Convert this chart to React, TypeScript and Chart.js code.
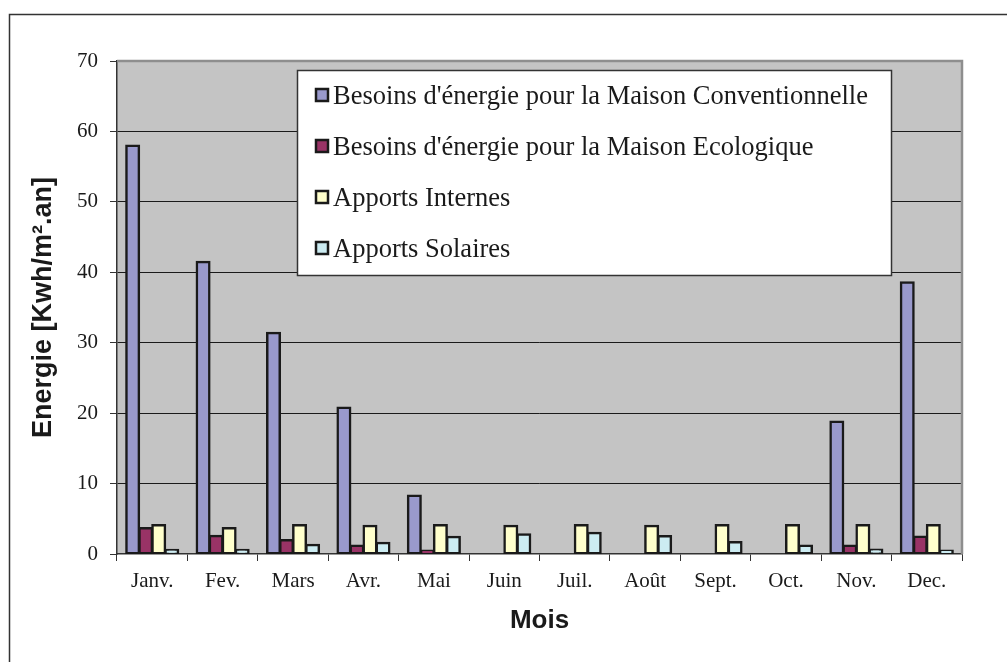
import React, { useEffect, useRef } from "react";
import { Chart, registerables } from "chart.js";

Chart.register(...registerables);

const months = ["Janv.", "Fev.", "Mars", "Avr.", "Mai", "Juin", "Juil.", "Août", "Sept.", "Oct.", "Nov.", "Dec."];
const conventionnelle = [58, 41.5, 31.4, 20.8, 8.3, 0, 0, 0, 0, 0, 18.8, 38.6];
const ecologique = [3.7, 2.6, 2.0, 1.2, 0.5, 0, 0, 0, 0, 0, 1.2, 2.5];
const internes = [4.1, 3.7, 4.1, 4.0, 4.1, 4.0, 4.1, 4.0, 4.1, 4.1, 4.1, 4.1];
const solaires = [0.6, 0.6, 1.3, 1.6, 2.45, 2.8, 3.0, 2.55, 1.7, 1.2, 0.65, 0.5];
const seriesNames = [
  "Besoins d'énergie pour la Maison Conventionnelle",
  "Besoins d'énergie pour la Maison Ecologique",
  "Apports Internes",
  "Apports Solaires",
];
const seriesColors = ["#9999CC", "#993366", "#FFFFCC", "#CCECF2"];
const yTitle = "Energie [Kwh/m².an]";
const xTitle = "Mois";

const framePlugin = {
  id: "frame",
  beforeDraw(chart: any) {
    const { ctx, chartArea: a } = chart;
    ctx.save();
    ctx.fillStyle = "#fff";
    ctx.fillRect(0, 0, chart.width, chart.height);
    ctx.fillStyle = "#C4C4C4";
    ctx.fillRect(a.left, a.top, a.right - a.left, a.bottom - a.top);
    ctx.strokeStyle = "#333";
    ctx.lineWidth = 1.5;
    ctx.beginPath();
    ctx.moveTo(9.5, chart.height);
    ctx.lineTo(9.5, 14.5);
    ctx.lineTo(chart.width, 14.5);
    ctx.stroke();
    ctx.restore();
  },
  beforeDatasetsDraw(chart: any) {
    const { ctx, chartArea: a } = chart;
    ctx.save();
    ctx.strokeStyle = "#8E8E8E";
    ctx.lineWidth = 2.5;
    ctx.beginPath();
    ctx.moveTo(a.left, a.top);
    ctx.lineTo(a.right, a.top);
    ctx.lineTo(a.right, a.bottom);
    ctx.stroke();
    ctx.restore();
  },
  afterDraw(chart: any) {
    const { ctx } = chart;
    const bx = 297, by = 70, bw = 594, bh = 205;
    ctx.save();
    ctx.fillStyle = "#fff";
    ctx.fillRect(bx, by, bw, bh);
    ctx.strokeStyle = "#333";
    ctx.lineWidth = 1.5;
    ctx.strokeRect(bx + 0.5, by + 0.5, bw, bh);
    ctx.font = "26.5px 'Liberation Serif'";
    ctx.textBaseline = "middle";
    ctx.textAlign = "left";
    chart.data.datasets.forEach((ds: any, i: number) => {
      const cy = 95 + i * 51;
      ctx.fillStyle = ds.backgroundColor;
      ctx.fillRect(316, cy - 6, 12, 12);
      ctx.strokeStyle = "#1a1a1a";
      ctx.lineWidth = 2.5;
      ctx.strokeRect(316, cy - 6, 12, 12);
      ctx.fillStyle = "#1a1a1a";
      ctx.fillText(ds.label, 333, cy + 2);
    });
    ctx.restore();
  },
};

export default function App() {
  const ref = useRef<HTMLCanvasElement>(null);
  useEffect(() => {
    if (!ref.current) return;
    const series = [conventionnelle, ecologique, internes, solaires];
    const chart = new Chart(ref.current, {
      type: "bar",
      data: {
        labels: months,
        datasets: series.map((d, i) => ({
          label: seriesNames[i],
          data: d,
          backgroundColor: seriesColors[i],
          borderColor: "#1a1a1a",
          borderWidth: 2.5,
          borderSkipped: false,
          inflateAmount: 1,
          categoryPercentage: 0.74,
          barPercentage: 1,
        })),
      },
      options: {
        responsive: false,
        animation: false,
        layout: { padding: { top: 61, right: 45, left: 0, bottom: 0 } },
        plugins: { legend: { display: false }, tooltip: { enabled: false } },
        scales: {
          x: {
            afterFit: (s: any) => { s.height = 108; },
            grid: { drawOnChartArea: false, drawTicks: true, tickLength: 7, color: "#333", offset: true },
            border: { color: "#333", width: 1.5 },
            ticks: { font: { family: "'Liberation Serif'", size: 21 }, color: "#1a1a1a", padding: 8 },
            title: {
              display: true,
              text: xTitle,
              font: { family: "'Liberation Sans'", size: 26, weight: "bold" },
              color: "#1a1a1a",
              padding: { top: 0, bottom: 26 },
            },
          },
          y: {
            min: 0,
            max: 70,
            afterFit: (s: any) => { s.width = 117; },
            grid: {
              color: (c: any) => (c.tick && c.tick.value === 70 ? "#8E8E8E" : c.tick && c.tick.value === 0 ? "rgba(0,0,0,0)" : "#1a1a1a"),
              tickColor: "#333",
              tickLength: 7,
              lineWidth: 1,
            },
            border: { color: "#333", width: 1.5 },
            ticks: { stepSize: 10, font: { family: "'Liberation Serif'", size: 21 }, color: "#1a1a1a", padding: 12 },
            title: {
              display: true,
              text: yTitle,
              font: { family: "'Liberation Sans'", size: 27, weight: "bold" },
              color: "#1a1a1a",
              padding: { top: 27, bottom: 0 },
            },
          },
        },
      },
      plugins: [framePlugin],
    });
    return () => chart.destroy();
  }, []);
  return (
    <div style={{ position: "fixed", left: 0, top: 0, width: 1007, height: 662 }}>
      <canvas ref={ref} width={1007} height={662} />
    </div>
  );
}
